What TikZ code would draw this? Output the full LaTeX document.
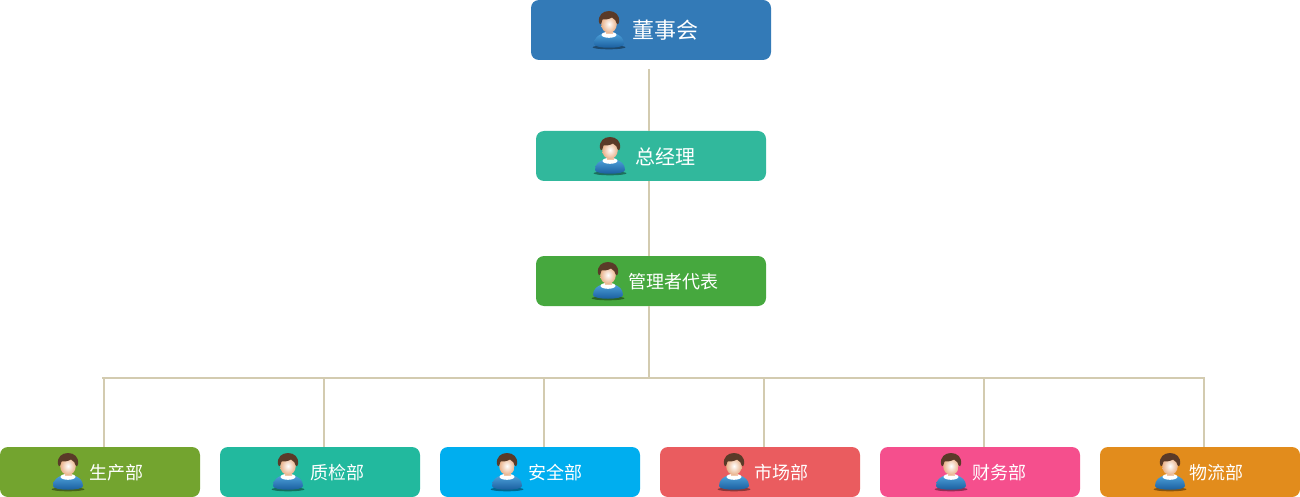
\documentclass[tikz,border=0pt]{standalone}
\usepackage{xcolor}
\usepackage{fontspec}
\setmainfont{Noto Sans CJK SC}
\usetikzlibrary{positioning}

\definecolor{linec}{HTML}{D3CBB0}
\definecolor{boardc}{HTML}{337AB7}
\definecolor{ceoc}{HTML}{31B89C}
\definecolor{repc}{HTML}{46A83E}
\definecolor{prodc}{HTML}{73A42F}
\definecolor{qualc}{HTML}{22B99E}
\definecolor{safec}{HTML}{00AEEF}
\definecolor{markc}{HTML}{EA5C5F}
\definecolor{finc}{HTML}{F54F8D}
\definecolor{logc}{HTML}{E28C1C}
\definecolor{hairc}{HTML}{5A3A28}
\definecolor{skinc}{HTML}{E9B088}
\definecolor{shirtup}{HTML}{4FA3DC}
\definecolor{shirtdn}{HTML}{16599A}

\tikzset{
  unitbox/.style={rectangle, rounded corners=8pt, minimum width=200pt, minimum height=50pt, inner sep=0pt, line width=0pt},
  unittxt/.style={text=white, inner sep=0pt, font=\fontsize{18}{20}\selectfont},
  trunk/.style={draw=linec, line width=2pt},
  staff/.pic={
    \fill [black, opacity=.4] (0,17.3) ellipse [x radius=16.5, y radius=2];
    \shade [top color=shirtup, bottom color=shirtdn]
      (-15,14) .. controls (-15,8) and (-11,5) .. (-5,3)
      -- (5,3) .. controls (11,5) and (15,8) .. (15,14)
      .. controls (15,19) and (-15,19) .. (-15,14) -- cycle;
    \fill [white] (0,4.8) ellipse [x radius=7.5, y radius=3];
    \fill [skinc!70!white] (-3.5,-1) rectangle (3.5,4);
    \shade [inner color=white, outer color=skinc] (0,-6) ellipse [x radius=7.8, y radius=9];
    \fill [hairc] (-10,-8) .. controls (-11,-15) and (-6,-19) .. (0,-19)
      .. controls (6,-19) and (11,-15) .. (10,-8)
      .. controls (9.8,-5.5) and (8.5,-5) .. (7.8,-6.5)
      .. controls (7.5,-9) and (5.5,-11) .. (3,-12.5)
      .. controls (0,-10.5) and (-4,-10.5) .. (-6.5,-10.5)
      .. controls (-7.3,-9) and (-7.6,-8) .. (-7.8,-6.5)
      .. controls (-8.5,-5) and (-9.8,-5.5) .. (-10,-8) -- cycle;
  }
}

\begin{document}
\begin{tikzpicture}[x=1pt, y=-1pt]
\useasboundingbox (0,0) rectangle (1300,497);

% upper three boxes
\node [unitbox, fill=boardc, minimum width=240pt, minimum height=60pt] (board) at (651,30) {};
\node [unitbox, fill=ceoc, minimum width=230pt] (ceo) at (651,156) {};
\node [unitbox, fill=repc, minimum width=230pt] (rep) at (651,281) {};

% connectors
\coordinate (trunktop) at (649,69);
\coordinate (trunkfoot) at (649,378);
\coordinate (busleft) at (102,378);
\coordinate (busright) at (1205,378);
\draw [trunk] (trunktop) -- (trunktop |- ceo.north);
\draw [trunk] (trunktop |- ceo.south) -- (trunktop |- rep.north);
\draw [trunk] (trunktop |- rep.south) -- (trunkfoot);
\draw [trunk] (busleft) -- (busright);

% departments
\foreach \name/\x/\col/\ix/\tx/\txt in {prod/100/prodc/68/116/生产部, qual/320/qualc/288/337/质检部,
  safe/540/safec/507/555/安全部, mark/760/markc/734/781/市场部,
  fin/980/finc/951/999/财务部, logi/1200/logc/1170/1216/物流部}
{
  \node [unitbox, fill=\col] (\name) at (\x,472) {};
  \coordinate (drop\name) at (\x+4,378);
  \draw [trunk] (drop\name) -- (drop\name |- \name.north);
  \node [unittxt] (\name txt) at (\tx,472.8) {\txt};
  \pic at (\ix,472) {staff};
}

% icons and texts of the upper boxes
\pic at (609,30) {staff};
\pic at (610,156) {staff};
\pic at (608,281) {staff};
\node [unittxt, font=\fontsize{22}{24}\selectfont] (boardtxt) at (665,30.6) {董事会};
\node [unittxt, font=\fontsize{20}{22}\selectfont] (ceotxt) at (665,156.8) {总经理};
\node [unittxt] (reptxt) at (673,281.6) {管理者代表};
\end{tikzpicture}
\end{document}
